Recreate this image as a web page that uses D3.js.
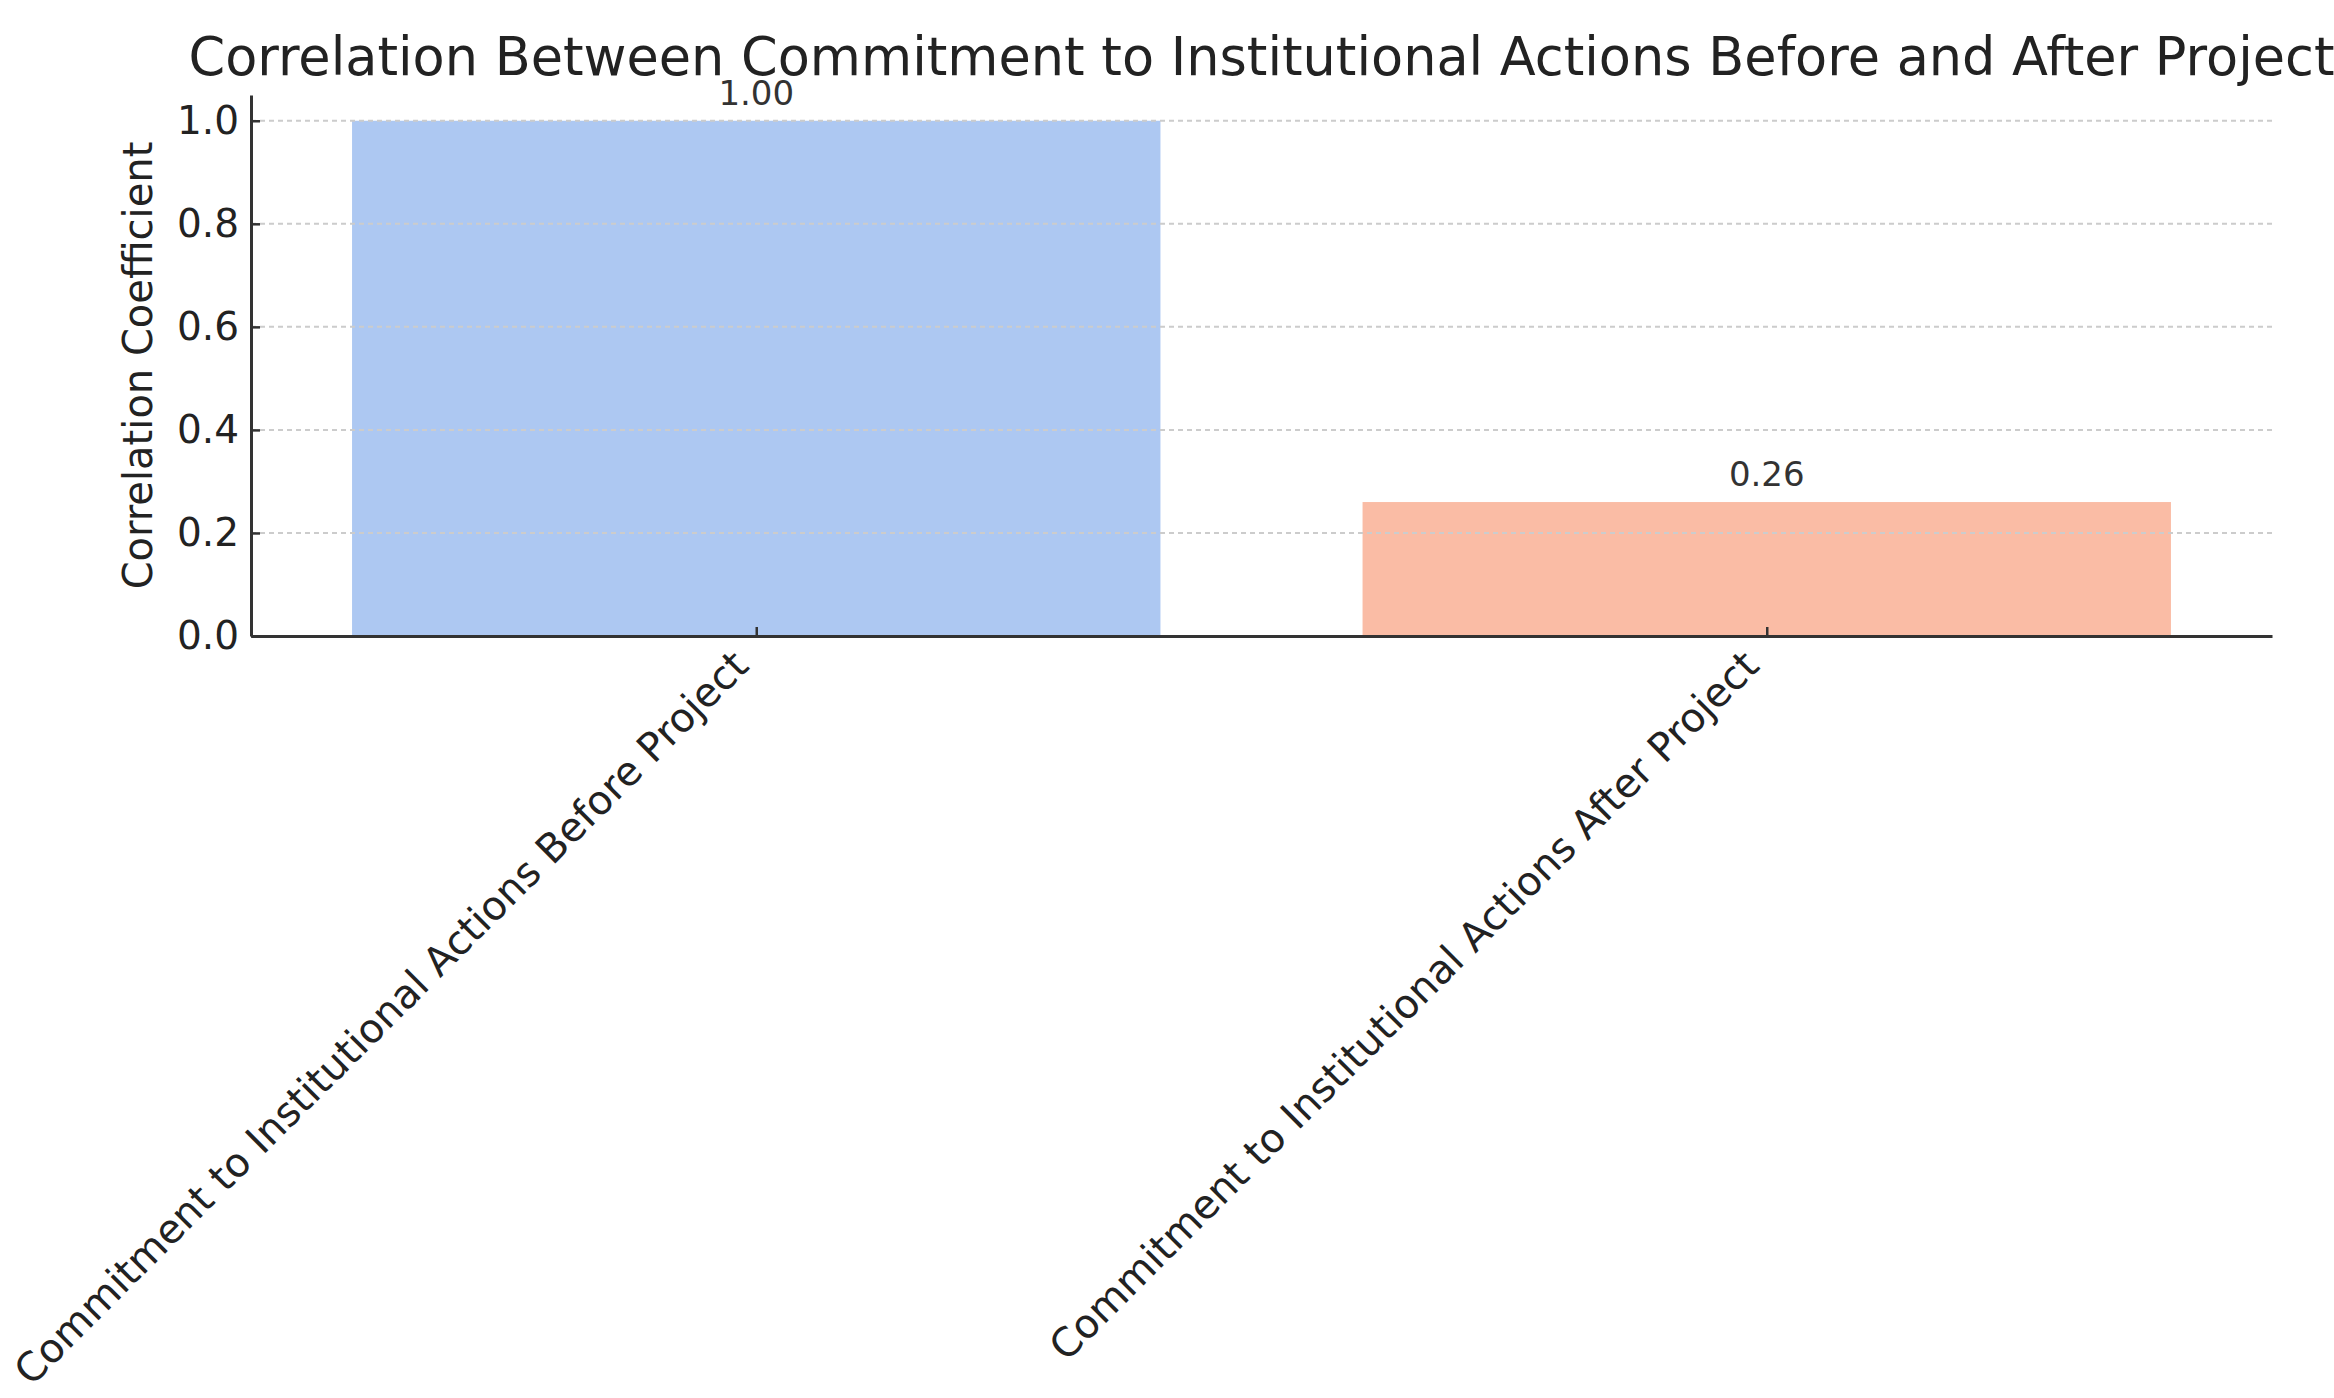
<!DOCTYPE html>
<html>
<head>
<meta charset="utf-8">
<script src="https://cdn.jsdelivr.net/npm/d3@7/dist/d3.min.js"></script>
<style>
html,body{margin:0;padding:0;background:#fff;overflow:hidden;}
text{font-family:"DejaVu Sans",sans-serif;}
</style>
</head>
<body>
<svg id="chart" width="2334" height="1398"></svg>
<script>
const categories = [
  "Commitment to Institutional Actions Before Project",
  "Commitment to Institutional Actions After Project"
];
const values = [1.00, 0.26];
const barColors = ["#adc8f2", "#fabca5"];
const yTicks = [0.0, 0.2, 0.4, 0.6, 0.8, 1.0];
const titleText = "Correlation Between Commitment to Institutional Actions Before and After Project";
const yLabel = "Correlation Coefficient";

(function(){
const svg = d3.select("#chart");
const mLeft = 251, mRight = 2272, mTop = 95, mBottom = 636;

const x = d3.scaleLinear().domain([-0.5, 1.5]).range([mLeft, mRight]);
const y = d3.scaleLinear().domain([0, 1.05]).range([mBottom, mTop]);
const barW = 0.8;

// bars
svg.append("g").selectAll("rect").data(values).join("rect")
  .attr("x", (d,i) => x(i - barW/2))
  .attr("width", (d,i) => x(i + barW/2) - x(i - barW/2))
  .attr("y", d => y(d))
  .attr("height", d => y(0) - y(d))
  .attr("fill", (d,i) => barColors[i]);

// grid
svg.append("g").selectAll("line").data(yTicks.filter(t => t > 0)).join("line")
  .attr("x1", mLeft).attr("x2", mRight)
  .attr("y1", d => y(d)).attr("y2", d => y(d))
  .attr("stroke", "#cccccc").attr("stroke-width", 2)
  .attr("stroke-dasharray", "5,4");

// y axis
const yAxis = d3.axisLeft(y).tickValues(yTicks).tickFormat(d3.format(".1f"))
  .tickSizeInner(-9).tickSizeOuter(0).tickPadding(12);
const gy = svg.append("g").attr("transform", `translate(${mLeft},0)`).call(yAxis);
gy.select(".domain").attr("stroke", "#333").attr("stroke-width", 3);
gy.selectAll(".tick line").attr("stroke", "#333").attr("stroke-width", 2.5);
gy.selectAll(".tick text").attr("font-size", 39).attr("fill", "#222")
  .attr("font-family", "DejaVu Sans");

// x axis
const xAxis = d3.axisBottom(x).tickValues([0,1]).tickFormat(i => categories[i])
  .tickSizeInner(-9).tickSizeOuter(0).tickPadding(10);
const gx = svg.append("g").attr("transform", `translate(0,${mBottom})`).call(xAxis);
gx.select(".domain").attr("stroke", "#333").attr("stroke-width", 3);
gx.selectAll(".tick line").attr("stroke", "#333").attr("stroke-width", 2.5);
gx.selectAll(".tick text").attr("font-size", 40).attr("fill", "#222")
  .attr("font-family", "DejaVu Sans")
  .attr("text-anchor", "end")
  .attr("dy", "0.35em")
  .attr("x", 0).attr("y", 0)
  .attr("transform", "translate(-16,22) rotate(-45)");

// value labels
svg.append("g").selectAll("text").data(values).join("text")
  .attr("x", (d,i) => x(i))
  .attr("y", d => y(d) - 16)
  .attr("text-anchor", "middle")
  .attr("font-size", 34).attr("fill", "#333")
  .text(d => d.toFixed(2));

// y label
svg.append("text")
  .attr("transform", `translate(152,${(y(0)+y(1.05))/2}) rotate(-90)`)
  .attr("text-anchor", "middle")
  .attr("font-size", 40).attr("fill", "#222")
  .text(yLabel);

// title
svg.append("text")
  .attr("x", (mLeft + mRight)/2).attr("y", 75)
  .attr("text-anchor", "middle")
  .attr("font-size", 52.5).attr("fill", "#222")
  .text(titleText);
})();
</script>
</body>
</html>
